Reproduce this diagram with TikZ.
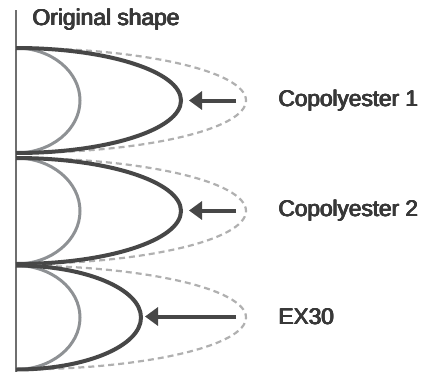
\documentclass[tikz,border=0pt]{standalone}
\usepackage{fontspec}
\setmainfont{Liberation Sans}
\usetikzlibrary{arrows.meta}
\definecolor{txt}{HTML}{383838}
\definecolor{darkc}{HTML}{474747}
\definecolor{innerc}{HTML}{8E9194}
\definecolor{dashc}{HTML}{B0B0B0}
\definecolor{vlinec}{HTML}{6F6F6F}
\newcommand\heavytext[1]{\rlap{#1}\rlap{\hspace{0.45pt}#1}\rlap{\hspace{0.9pt}#1}\rlap{\raisebox{0.5pt}{#1}}\rlap{\hspace{0.45pt}\raisebox{0.5pt}{#1}}\hspace{0.9pt}\raisebox{0.5pt}{#1}}
\begin{document}
\begin{tikzpicture}[x=1pt,y=1pt,
  lbl/.style={anchor=west,inner sep=0pt,text=txt,font=\fontsize{22.6}{26}\selectfont},
  ttl/.style={lbl,font=\fontsize{22.8}{26}\selectfont},
  dashedlobe/.style={draw=dashc,line width=2.2pt,dash pattern=on 6pt off 4pt},
  innerlobe/.style={draw=innerc,line width=3pt},
  darklobe/.style={draw=darkc,line width=4pt},
  pusharrow/.style={draw=darkc,line width=4pt,-{Triangle[length=13pt,width=18pt]}},
  axisline/.style={draw=vlinec,line width=1.6pt}]
\useasboundingbox (0,0) rectangle (425,-372);
% vertical reference line
\coordinate (vtop) at (16,-10);
\coordinate (vbot) at (16,-372);
\draw[axisline] (vtop) -- (vbot);
% title
\node[ttl] (title) at (32,-19.5) {\heavytext{Original shape}};
% lobes
\foreach \c/\ry/\rd/\nm in {100.5/52.5/165/1, 211/53/165/2, 317.5/52/125/3}{
  \draw[dashedlobe] (16,-\c+\ry) arc[start angle=90,end angle=-90,x radius=230,y radius=\ry];
  \draw[innerlobe] (16,-\c+\ry) arc[start angle=90,end angle=-90,x radius=64,y radius=\ry];
  \draw[darklobe] (16,-\c+\ry) arc[start angle=90,end angle=-90,x radius=\rd,y radius=\ry];
}
% arrows
\coordinate (a1s) at (236,-100.5);
\coordinate (a1e) at (189,-100.5);
\coordinate (a2s) at (236,-210.5);
\coordinate (a2e) at (189,-210.5);
\coordinate (a3s) at (236,-316.5);
\coordinate (a3e) at (145,-316.5);
\draw[pusharrow] (a1s) -- (a1e);
\draw[pusharrow] (a2s) -- (a2e);
\draw[pusharrow] (a3s) -- (a3e);
% labels
\node[lbl] (l1) at (278,-100.5) {\heavytext{Copolyester 1}};
\node[lbl] (l2) at (278,-210.5) {\heavytext{Copolyester 2}};
\node[lbl] (l3) at (278,-316.5) {\heavytext{EX30}};
\end{tikzpicture}
\end{document}
